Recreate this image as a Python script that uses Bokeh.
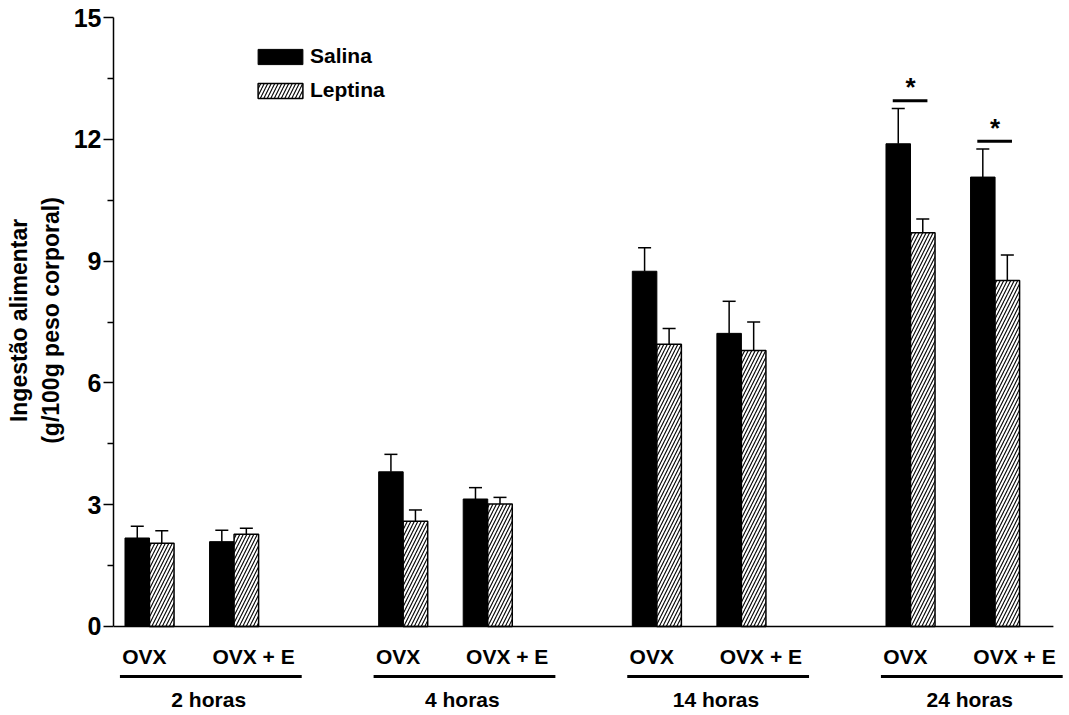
from bokeh.plotting import figure
from bokeh.layouts import column
from bokeh.models import Range1d, FixedTicker, Legend, LegendItem
from bokeh.core.properties import value
from bokeh.embed import file_html
from bokeh.resources import INLINE

# ---- data ----
groups = ["2 horas", "4 horas", "14 horas", "24 horas"]
conditions = ["OVX", "OVX + E"]
salina = [2.18, 2.09, 3.81, 3.14, 8.75, 7.22, 11.89, 11.07]
salina_err = [0.29, 0.28, 0.43, 0.28, 0.58, 0.79, 0.87, 0.69]
leptina = [2.05, 2.27, 2.59, 3.02, 6.95, 6.80, 9.70, 8.52]
leptina_err = [0.31, 0.15, 0.28, 0.16, 0.39, 0.70, 0.34, 0.63]
significant = [False, False, False, False, False, False, True, True]
y_ticks = [0, 3, 6, 9, 12, 15]
y_title = "Ingestão alimentar\n(g/100g peso corporal)"

FONT = value("Liberation Sans")
BW = 0.29  # bar width

# pair positions: group index * 3 + condition index + 1
pos = [g * 3 + c + 1 for g in range(len(groups)) for c in range(len(conditions))]
cond_labels = [conditions[c] for g in range(len(groups)) for c in range(len(conditions))]

xr = Range1d(0.574, 11.833)

p = figure(width=1065, height=640, output_backend="svg", toolbar_location=None,
           x_range=xr, y_range=Range1d(-0.345, 15.419),
           min_border_left=113, min_border_right=0, min_border_top=0, min_border_bottom=0)
p.outline_line_color = None
p.grid.visible = False
p.xaxis.visible = False
p.background_fill_color = "white"

yax = p.yaxis[0]
yax.ticker = FixedTicker(ticks=y_ticks, minor_ticks=[t + 1.5 for t in y_ticks[:-1]])
yax.bounds = (0, 15)
yax.axis_line_width = 1.5
yax.major_tick_line_width = 1.5
yax.minor_tick_line_width = 1.5
yax.major_tick_out = 10
yax.major_tick_in = 0
yax.minor_tick_out = 6
yax.minor_tick_in = 0
yax.major_label_standoff = 2
yax.major_label_text_font = "Liberation Sans"
yax.major_label_text_font_style = "bold"
yax.major_label_text_font_size = "25px"
yax.major_label_text_color = "black"
yax.axis_label = y_title
yax.axis_label_text_font = "Liberation Sans"
yax.axis_label_text_font_style = "bold"
yax.axis_label_text_font_size = "23px"
yax.axis_label_text_color = "black"
yax.axis_label_standoff = 7

sal_x = [x - BW / 2 for x in pos]
lep_x = [x + BW / 2 for x in pos]

# error bars (upper only)
for xs, vals, errs in ((sal_x, salina, salina_err), (lep_x, leptina, leptina_err)):
    tops = [v + e for v, e in zip(vals, errs)]
    p.segment(x0=xs, y0=vals, x1=xs, y1=tops, line_color="black", line_width=1.5)
    p.segment(x0=[x - 0.077 for x in xs], y0=tops, x1=[x + 0.077 for x in xs], y1=tops,
              line_color="black", line_width=1.5)

r_sal = p.vbar(x=sal_x, top=salina, bottom=0, width=BW, fill_color="black",
               line_color="black", line_width=1)
r_lep = p.vbar(x=lep_x, top=leptina, bottom=0, width=BW, fill_color="white",
               line_color="black", line_width=1.5, hatch_pattern="/",
               hatch_color="black", hatch_weight=1.1, hatch_scale=7)

# x axis line drawn at y = 0
p.segment(x0=[0.574], y0=[0], x1=[11.69], y1=[0], line_color="black", line_width=1.5)

# significance marks
sig_x = [x for x, s in zip(pos, significant) if s]
sig_y = [max(a + ae, b + be) + 0.19 for a, ae, b, be, s in
         zip(salina, salina_err, leptina, leptina_err, significant) if s]
p.segment(x0=[x - 0.21 for x in sig_x], y0=sig_y, x1=[x + 0.2 for x in sig_x], y1=sig_y,
          line_color="black", line_width=3)
p.text(x=sig_x, y=[y + 0.33 for y in sig_y], text=["*"] * len(sig_x), text_font=FONT,
       text_font_style="bold", text_font_size="26px", text_align="center",
       text_baseline="middle", text_color="black")

legend = Legend(items=[LegendItem(label="Salina", renderers=[r_sal]),
                       LegendItem(label="Leptina", renderers=[r_lep])],
                location=(139, 538), glyph_width=56, glyph_height=19, label_standoff=2,
                padding=0, margin=0, spacing=10, border_line_color=None,
                background_fill_alpha=0, label_text_font="Liberation Sans",
                label_text_font_style="bold", label_text_font_size="21px",
                label_text_color="black")
p.add_layout(legend)

# ---- lower strip: condition labels, group underlines and group names ----
q = figure(width=1065, height=72, output_backend="svg", toolbar_location=None,
           x_range=xr, y_range=Range1d(-2.118, -0.345),
           min_border_left=113, min_border_right=0, min_border_top=0, min_border_bottom=0)
q.outline_line_color = None
q.grid.visible = False
q.axis.visible = False
q.background_fill_color = "white"

lab_x = [x - 0.06 if c == "OVX" else x + 0.23 for x, c in zip(pos, cond_labels)]
q.text(x=lab_x, y=[-0.74] * len(lab_x), text=cond_labels, text_font=FONT,
       text_font_style="bold", text_font_size="21px", text_align="center",
       text_baseline="middle", text_color="black")

g_left = [g * 3 + 1 - 0.35 for g in range(len(groups))]
g_right = [g * 3 + 2 + 0.8 for g in range(len(groups))]
q.segment(x0=g_left, y0=[-1.23] * len(groups), x1=g_right, y1=[-1.23] * len(groups),
          line_color="black", line_width=3)
g_mid = [g * 3 + 1.5 + 0.2 for g in range(len(groups))]
q.text(x=g_mid, y=[-1.80] * len(groups), text=groups, text_font=FONT,
       text_font_style="bold", text_font_size="21px", text_align="center",
       text_baseline="middle", text_color="black")

layout = column(p, q, spacing=0)
open("out.html", "w").write(file_html(layout, INLINE))
